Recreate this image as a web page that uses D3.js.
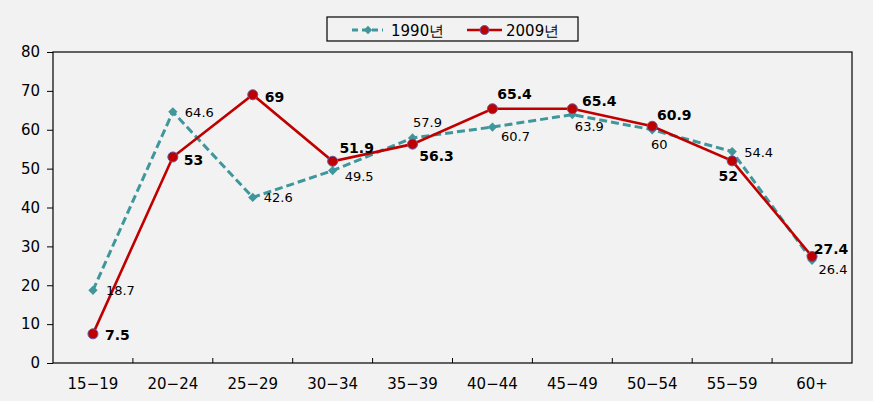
<!DOCTYPE html>
<html>
<head>
  <meta charset='utf-8'/>
  <style>
body { margin: 0; background: #f2f2f2; }
svg { display: block; background: #f2f2f2; }
text { font-family: "DejaVu Sans", Verdana, sans-serif; fill: #000; }
.lbl90 { font-size: 13px; }
.lbl09 { font-size: 14px; font-weight: bold; }
.legend text { font-size: 15px; }
  </style>
  <script src="https://d3js.org/d3.v7.min.js" charset="utf-8"></script>
</head>
<body>
<svg width="873" height="401"></svg>
<script>

var ageGroups = ["15-19", "20-24", "25-29", "30-34", "35-39", "40-44", "45-49", "50-54", "55-59", "60+"];
var rate1990 = [18.7, 64.6, 42.6, 49.5, 57.9, 60.7, 63.9, 60, 54.4, 26.4];
var rate2009 = [7.5, 53, 69, 51.9, 56.3, 65.4, 65.4, 60.9, 52, 27.4];
var yTicks = [0, 10, 20, 30, 40, 50, 60, 70, 80];
var seriesNames = ["1990년", "2009년"];

// label offsets from each point (dx, dy, anchor) - just placement
var off1990 = [[13,5,"start"],[12,5,"start"],[11,5,"start"],[12,10,"start"],[15,-11,"middle"],
               [23,14,"middle"],[17,16,"middle"],[7,19,"middle"],[12,5,"start"],[21,14,"middle"]];
var off2009 = [[12,6,"start"],[11,8,"start"],[12,7,"start"],[24,-8,"middle"],[24,17,"middle"],
               [22,-10,"middle"],[27,-3,"middle"],[22,-6,"middle"],[-4,20,"middle"],[19,-2,"middle"]];

var teal = "#3f969b", red = "#c00000";

var svg = d3.select("svg"),
    plotL = 53, plotR = 852, plotT = 52, plotB = 363;

var x = d3.scaleBand().domain(ageGroups).range([plotL, plotR]);
var y = d3.scaleLinear().domain([0, 80]).range([plotB, plotT]);

// frame
svg.append("rect")
    .attr("x", plotL).attr("y", plotT)
    .attr("width", plotR - plotL).attr("height", plotB - plotT)
    .attr("fill", "none").attr("stroke", "#000").attr("stroke-width", 1.2);

// y axis
var yAxis = svg.append("g")
    .attr("transform", "translate(" + plotL + ",0)")
    .call(d3.axisLeft(y).tickValues(yTicks).tickSize(6).tickPadding(7));
yAxis.select(".domain").remove();
yAxis.selectAll(".tick text").style("font-size", "15px");

// x axis, ticks between categories pointing into the plot
var xAxis = svg.append("g")
    .attr("transform", "translate(0," + plotB + ")")
    .call(d3.axisBottom(x).tickSize(0).tickPadding(15).tickFormat(function(d) { return d.replace("-", "\u2212"); }));
xAxis.select(".domain").remove();
xAxis.selectAll(".tick text").style("font-size", "15px");
svg.append("g").selectAll("line")
    .data(ageGroups.slice(1))
    .enter().append("line")
      .attr("x1", function(d) { return x(d); })
      .attr("x2", function(d) { return x(d); })
      .attr("y1", plotB).attr("y2", plotB - 5)
      .attr("stroke", "#000");

function cx(i) { return x(ageGroups[i]) + x.bandwidth() / 2; }

var line = d3.line()
    .x(function(d, i) { return cx(i); })
    .y(function(d) { return y(d); });

// 1990 series
svg.append("path")
    .datum(rate1990)
    .attr("d", line)
    .attr("fill", "none")
    .attr("stroke", teal)
    .attr("stroke-width", 3)
    .attr("stroke-dasharray", "8,4");

svg.append("g").selectAll("path")
    .data(rate1990)
    .enter().append("path")
      .attr("d", d3.symbol().type(d3.symbolDiamond2).size(55))
      .attr("transform", function(d, i) { return "translate(" + cx(i) + "," + y(d) + ")"; })
      .attr("fill", teal);

// 2009 series
svg.append("path")
    .datum(rate2009)
    .attr("d", line)
    .attr("fill", "none")
    .attr("stroke", red)
    .attr("stroke-width", 2.6);

svg.append("g").selectAll("circle")
    .data(rate2009)
    .enter().append("circle")
      .attr("cx", function(d, i) { return cx(i); })
      .attr("cy", function(d) { return y(d); })
      .attr("r", 5)
      .attr("fill", red)
      .attr("stroke", "#5a5aa8")
      .attr("stroke-width", 1);

// value labels
svg.append("g").selectAll("text")
    .data(rate1990)
    .enter().append("text")
      .attr("class", "lbl90")
      .attr("x", function(d, i) { return cx(i) + off1990[i][0]; })
      .attr("y", function(d, i) { return y(d) + off1990[i][1]; })
      .attr("text-anchor", function(d, i) { return off1990[i][2]; })
      .text(function(d) { return d; });

svg.append("g").selectAll("text")
    .data(rate2009)
    .enter().append("text")
      .attr("class", "lbl09")
      .attr("x", function(d, i) { return cx(i) + off2009[i][0]; })
      .attr("y", function(d, i) { return y(d) + off2009[i][1]; })
      .attr("text-anchor", function(d, i) { return off2009[i][2]; })
      .text(function(d) { return d; });

// legend
var lg = svg.append("g").attr("class", "legend");
lg.append("rect")
    .attr("x", 327).attr("y", 17).attr("width", 251).attr("height", 24)
    .attr("fill", "#f2f2f2").attr("stroke", "#000").attr("stroke-width", 1.2);

lg.append("line")
    .attr("x1", 352).attr("x2", 383).attr("y1", 30).attr("y2", 30)
    .attr("stroke", teal).attr("stroke-width", 3).attr("stroke-dasharray", "6,4");
lg.append("path")
    .attr("d", d3.symbol().type(d3.symbolDiamond2).size(45))
    .attr("transform", "translate(368,30)")
    .attr("fill", teal);
lg.append("text").attr("x", 391).attr("y", 35.5).text(seriesNames[0]);

lg.append("line")
    .attr("x1", 467).attr("x2", 502).attr("y1", 30).attr("y2", 30)
    .attr("stroke", red).attr("stroke-width", 2.6);
lg.append("circle")
    .attr("cx", 484.5).attr("cy", 30).attr("r", 4.5)
    .attr("fill", red).attr("stroke", "#5a5aa8");
lg.append("text").attr("x", 506).attr("y", 35.5).text(seriesNames[1]);

</script>
</body>
</html>
